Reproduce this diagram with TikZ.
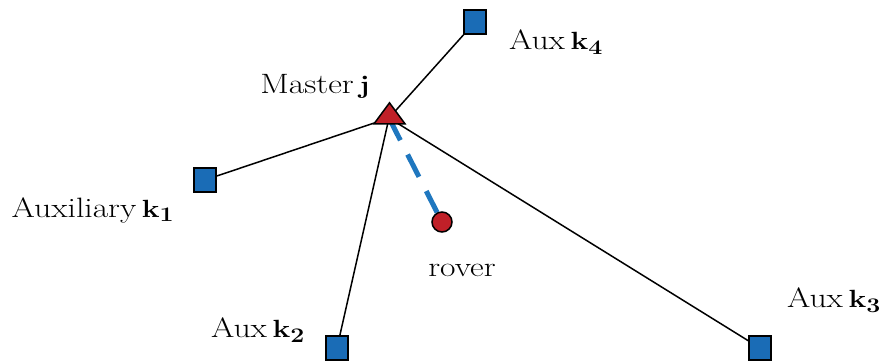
\documentclass[tikz,border=0pt]{standalone}
\usepackage{graphicx}
\usetikzlibrary{shapes.geometric,backgrounds}
\definecolor{sqblue}{RGB}{26,108,182}
\definecolor{dashblue}{RGB}{31,119,191}
\definecolor{mred}{RGB}{192,32,40}
\newcommand{\wtxt}[1]{\scalebox{1.2}[1]{#1}}
\begin{document}
\begin{tikzpicture}[x=1pt,y=-1pt,
  every node/.style={font=\fontsize{28}{32}\selectfont},
  auxsq/.style={draw=black,line width=1.5pt,fill=sqblue,minimum width=22pt,minimum height=24pt,inner sep=0pt},
  master/.style={draw=black,line width=1.5pt,fill=mred,isosceles triangle,shape border rotate=90,isosceles triangle stretches,minimum width=31pt,minimum height=21pt,inner sep=0pt},
  roverc/.style={circle,draw=black,line width=1.5pt,fill=mred,minimum size=20pt,inner sep=0pt},
  link/.style={draw=black,line width=1.5pt},
  dlink/.style={draw=dashblue,line width=5pt,dash pattern=on 25pt off 16pt},
  lbl/.style={inner sep=0pt}]
\useasboundingbox (0,0) rectangle (883,363);
\node[master] (m) at (389.5,116) {};
\node[auxsq] (k4) at (475,22) {};
\node[auxsq] (k1) at (205,180) {};
\node[auxsq] (k2) at (337,348) {};
\node[auxsq] (k3) at (760,348) {};
\node[roverc] (r) at (442,222) {};
\coordinate (mc) at (389,118);
\begin{scope}[on background layer]
\draw[link] (mc) -- (k4.center);
\draw[link] (mc) -- (k1.center);
\draw[link] (mc) -- (k2.center);
\draw[link] (mc) -- (k3.center);
\draw[dlink] (mc) -- (r);
\end{scope}
\node[lbl] (lm) at (315,86) {\wtxt{Master\,$\mathbf{j}$}};
\node[lbl] (l4) at (556,42) {\wtxt{Aux\,$\mathbf{k}_{\mathbf{4}}$}};
\node[lbl] (l1) at (93,210) {\wtxt{Auxiliary\,$\mathbf{k}_{\mathbf{1}}$}};
\node[lbl] (lr) at (462,270) {\wtxt{rover}};
\node[lbl] (l2) at (258,330) {\wtxt{Aux\,$\mathbf{k}_{\mathbf{2}}$}};
\node[lbl] (l3) at (834,300) {\wtxt{Aux\,$\mathbf{k}_{\mathbf{3}}$}};
\end{tikzpicture}
\end{document}
